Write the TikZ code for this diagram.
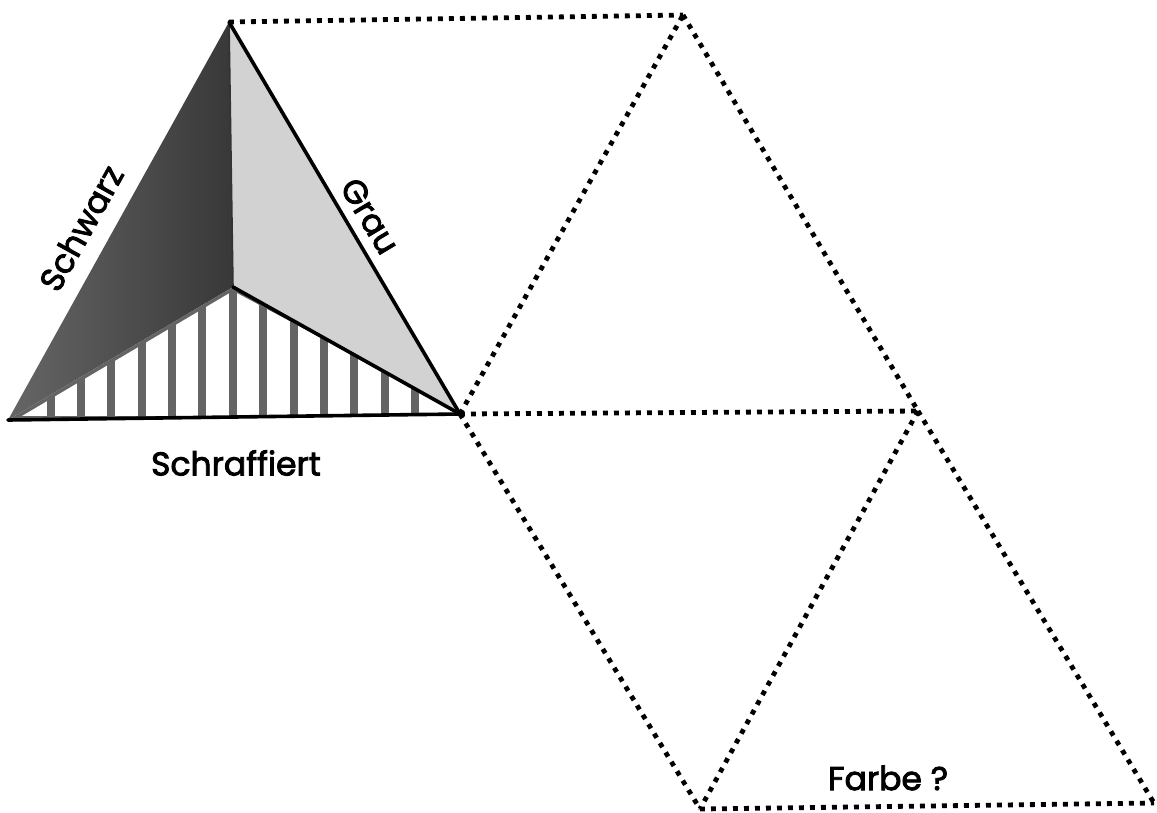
\documentclass[tikz,border=0pt]{standalone}
\usepackage{fontspec}
\newfontfamily\labfont{Poppins}[FakeBold=2.6]
\definecolor{darkface}{HTML}{383838}
\definecolor{darkedge}{HTML}{666666}
\definecolor{lightface}{HTML}{D2D2D2}
\definecolor{bargray}{HTML}{646464}
\begin{document}
\begin{tikzpicture}[x=1pt,y=-1pt,
  edge/.style={line width=3.6pt, line join=round, line cap=round},
  ridge/.style={line width=1.6pt, black!80},
  fold/.style={line width=4.8pt, dash pattern=on 4.8pt off 6.2pt},
  lab/.style={font=\labfont\fontsize{33}{33}\selectfont, inner sep=0pt}]
\useasboundingbox (0,0) rectangle (1157,812);

% corners of the solid
\coordinate (A) at (229,22);
\coordinate (BL) at (8,420);
\coordinate (BR) at (460,414);
\coordinate (C) at (233,287);
% corners of the unfolded net
\coordinate (T) at (683,15);
\coordinate (R) at (918,411);
\coordinate (D) at (700,809);
\coordinate (E) at (1154,803);

% black face
\shade[left color=darkedge, right color=darkface] (A) -- (BL) -- (C) -- cycle;
% grey face
\fill[lightface] (A) -- (C) -- (BR) -- cycle;
% hatched face
\fill[bargray] (BL) -- (C) -- (BR) -- cycle;
\begin{scope}
  \clip (22,416) -- (233,291) -- (468,416) -- cycle;
  \foreach \a/\b in {22/47,55/77,85/107,115/138,146/168,176/198,206/229,
                     237/259,267/290,298/320,328/350,358/381,389/411,419/470}
    \fill[white] (\a,280) rectangle (\b,416);
\end{scope}

% edges of the solid
\draw[ridge] (A) -- (C);
\draw[edge] (A) -- (BR);
\draw[edge] (C) -- (BR);
\draw[edge] (BL) -- (BR);

% fold lines of the net
\draw[fold] (A) -- (T);
\draw[fold] (BR) -- (T);
\draw[fold] (T) -- (R);
\draw[fold] (BR) -- (R);
\draw[fold] (BR) -- (D);
\draw[fold] (R) -- (D);
\draw[fold] (R) -- (E);
\draw[fold] (D) -- (E);

% face labels
\node[lab, rotate=61] (schwarz) at (81,228) {Schwarz};
\node[lab, rotate=-59] (grau) at (370,216) {Grau};
\node[lab] (schraff) at (236,463) {Schraffiert};
\node[lab] (farbe) at (888,778) {Farbe ?};
\end{tikzpicture}
\end{document}
